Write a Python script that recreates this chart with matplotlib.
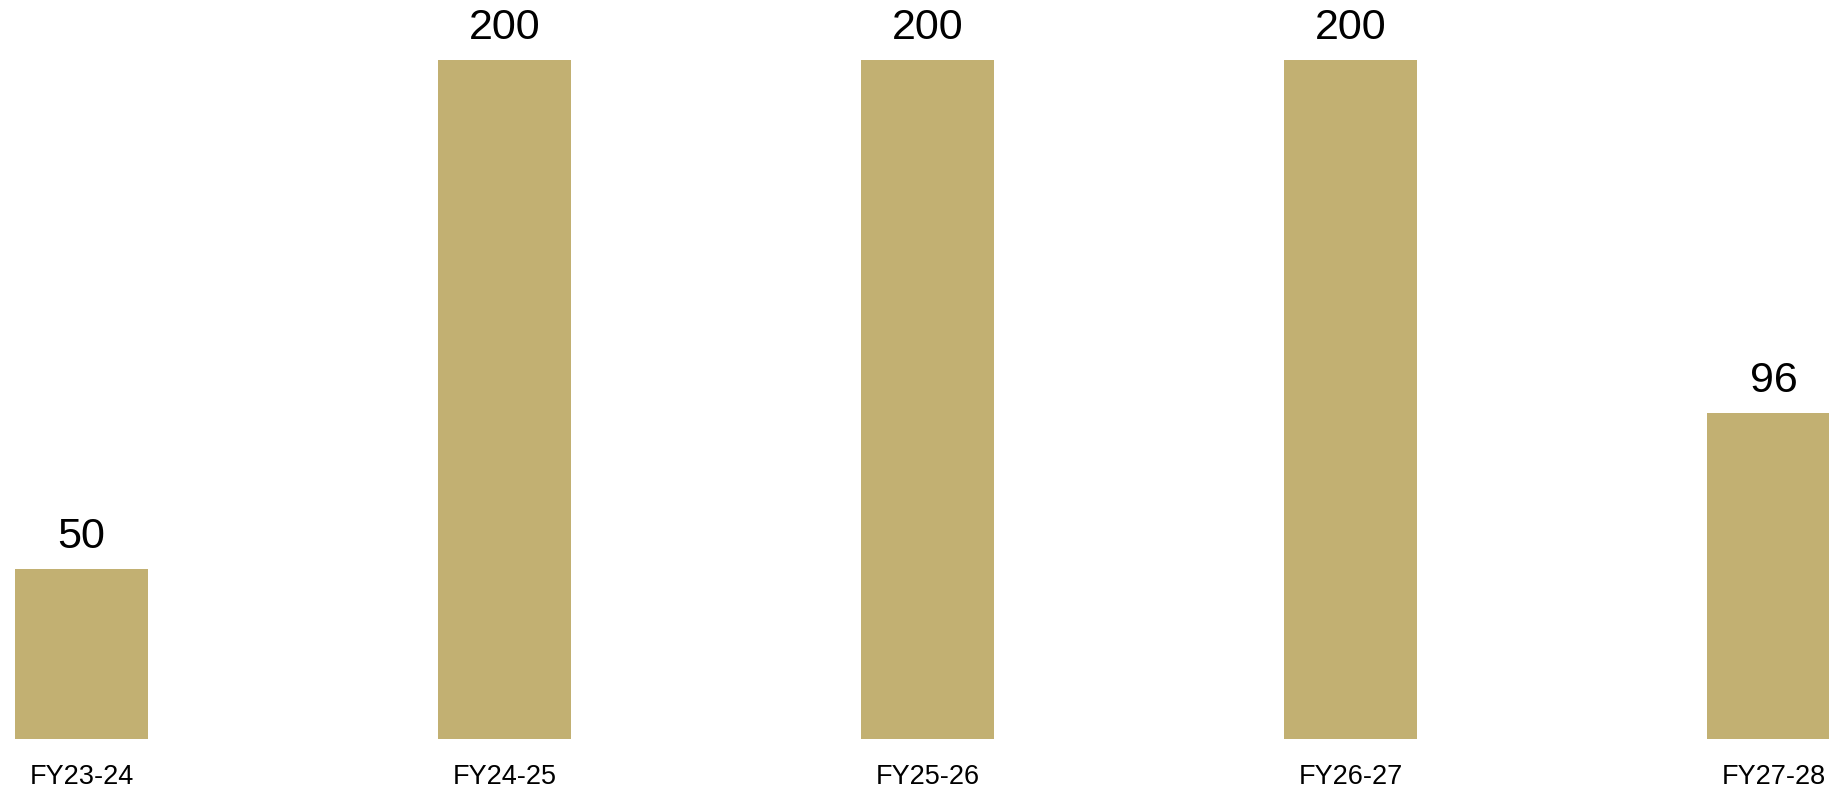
import matplotlib
matplotlib.use("Agg")
import matplotlib.pyplot as plt

plt.rcParams['font.family'] = ['Liberation Sans', 'DejaVu Sans']

# 年度与对应数值
years = ['FY23-24', 'FY24-25', 'FY25-26', 'FY26-27', 'FY27-28']
values = [50, 200, 200, 200, 96]
bar_color = '#C2B072'

fig = plt.figure(figsize=(18.29, 7.89), dpi=100)
# 坐标轴占满宽度，底部留出年份标签的位置
ax = fig.add_axes([0, 50 / 789, 1, 739 / 789])

x = list(range(len(years)))
ax.bar(x, values, width=0.314, color=bar_color)

# 柱顶数值
for a, b in zip(x, values):
    ax.annotate('%d' % b, xy=(a, b), xytext=(0, 15), textcoords='offset points',
                ha='center', va='baseline', fontsize=31, color='black')

ax.set_xlim(-81.5 / 423, (1829 - 81.5) / 423)
ax.set_ylim(0, 739 / 3.395)
ax.set_xticks(x)
ax.set_xticklabels(years, fontsize=19.5)
ax.tick_params(axis='x', length=0, pad=18)
ax.set_yticks([])
for s in ax.spines.values():
    s.set_visible(False)

fig.savefig('out.png', dpi=100)
